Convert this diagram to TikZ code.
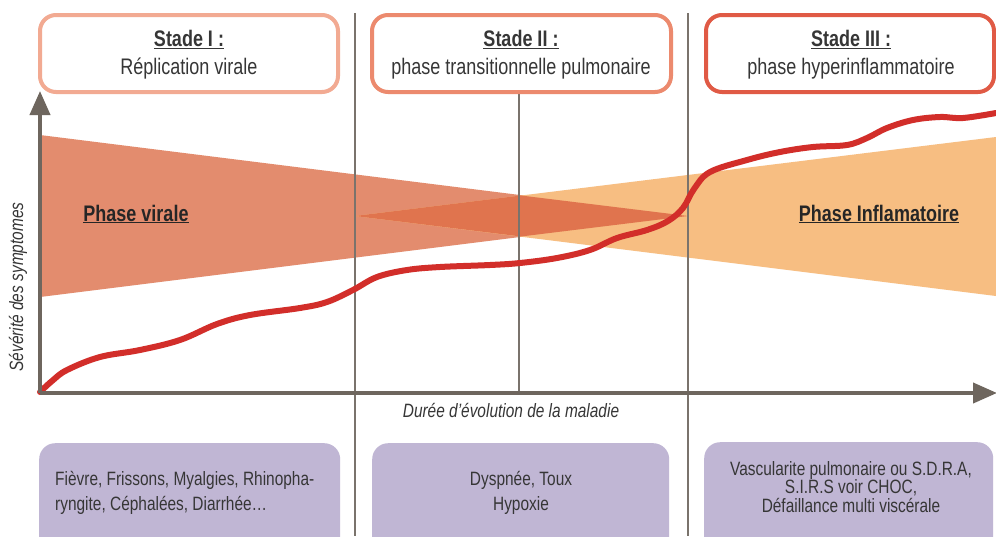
\documentclass[tikz,border=0pt]{standalone}
\usepackage{fontspec}
\setmainfont{Liberation Sans}[FakeStretch=0.8]
\usetikzlibrary{arrows.meta}
\definecolor{axisgray}{HTML}{6E665E}
\definecolor{linegray}{HTML}{7A736C}
\definecolor{virred}{HTML}{E38C6E}
\definecolor{inforange}{HTML}{F7BE82}
\definecolor{overlapc}{HTML}{E0744E}
\definecolor{curvered}{HTML}{D22E2A}
\definecolor{lav}{HTML}{C0B6D4}
\definecolor{txt}{HTML}{363636}
\definecolor{boxa}{HTML}{F2AA92}
\definecolor{boxb}{HTML}{EC8A6E}
\definecolor{boxc}{HTML}{E05A45}
\begin{document}
\begin{tikzpicture}[x=1pt,y=-1pt,
  stadebox/.style={draw, line width=4pt, rounded corners=16pt, fill=white,
    minimum height=77pt, inner sep=0pt},
  stadetext/.style={align=center, text=txt, font=\fontsize{22.5}{28}\selectfont},
  lavbox/.style={fill=lav, rounded corners=16pt, minimum height=130pt, inner sep=0pt, anchor=north west},
  bottext/.style={text=txt, font=\fontsize{19.3}{25}\selectfont, inner sep=0pt},
  phasetext/.style={text=black!85, font=\bfseries\fontsize{22.5}{25}\selectfont, inner sep=0pt},
  axislabel/.style={text=txt, font=\itshape\fontsize{19.3}{22}\selectfont, inner sep=0pt},
  vline/.style={draw=linegray, line width=1.3pt},
  axis/.style={draw=axisgray, line width=4pt, -{Triangle[length=24pt,width=20pt]}}
]
\useasboundingbox (0,0) rectangle (996,536);
\clip (0,0) rectangle (996,536);
\fill[white] (0,0) rectangle (996,536);

% bands
\fill[virred] (40,135) -- (688,216) -- (40,297) -- cycle;
\fill[inforange] (355,216) -- (996,137) -- (996,296) -- cycle;
\fill[overlapc] (355,216) -- (521,195.5) -- (688,216) -- (521,236.5) -- cycle;

% vertical lines
\coordinate (v1t) at (355,13); \coordinate (v1b) at (355,536);
\coordinate (v2t) at (519,92); \coordinate (v2b) at (519,393);
\coordinate (v3t) at (688,13); \coordinate (v3b) at (688,536);
\draw[vline] (v1t) -- (v1b);
\draw[vline] (v2t) -- (v2b);
\draw[vline] (v3t) -- (v3b);

% top boxes
\node[stadebox, draw=boxa, minimum width=298pt] (s1) at (189,53.5) {};
\node[stadebox, draw=boxb, minimum width=299pt] (s2) at (521.5,53.5) {};
\node[stadebox, draw=boxc, minimum width=288pt] (s3) at (850,53.5) {};
\node[stadetext] (s1t) at (189,55) {\underline{\textbf{Stade I :}}\\Réplication virale};
\node[stadetext] (s2t) at (521,55) {\underline{\textbf{Stade II :}}\\phase transitionnelle pulmonaire};
\node[stadetext] (s3t) at (851,55) {\underline{\textbf{Stade III :}}\\phase hyperinflammatoire};

% curve
\draw[curvered, line width=6pt, line cap=round] plot[smooth, tension=0.6] coordinates {
 (40,392) (52,381) (67,370) (100,357) (140,350) (180,340) (217,324) (250,315)
 (300,308) (327,302) (353,290) (377,277) (407,270) (440,267) (490,265) (520,263)
 (557,258) (590,250) (617,238) (647,230) (668,221) (683,208) (694,189) (710,172)
 (747,160) (780,152) (813,147) (847,145) (867,138) (887,128) (913,120) (940,117)
 (963,118) (996,113)};

% phase labels
\node[phasetext] (pv) at (136,214) {\underline{Phase virale}};
\node[phasetext] (pi) at (879,214) {\underline{Phase Inflamatoire}};

% axes
\coordinate (o) at (40,393);
\coordinate (ytip) at (40,91);
\coordinate (xtip) at (997,393);
\draw[axis] (o) -- (ytip);
\draw[axis] (o) -- (xtip);
\node[axislabel, rotate=90] (yl) at (18,287) {Sévérité des symptomes};
\node[axislabel] (xl) at (511,410) {Durée d’évolution de la maladie};

% bottom boxes
\node[lavbox, minimum width=301pt] (b1) at (39,443) {};
\node[lavbox, minimum width=297pt] (b2) at (372,443) {};
\node[lavbox, minimum width=289pt] (b3) at (704,442) {};
\node[bottext, align=left, anchor=west] (b1t) at (55,493) {Fièvre, Frissons, Myalgies, Rhinopha-\\ryngite, Céphalées, Diarrhée…};
\node[bottext, align=center] (b2t) at (521,493) {Dyspnée, Toux\\Hypoxie};
\node[bottext, align=center, font=\fontsize{19.3}{18.5}\selectfont] (b3t) at (851,487) {Vascularite pulmonaire ou S.D.R.A,\\S.I.R.S voir CHOC,\\Défaillance multi viscérale};
\end{tikzpicture}
\end{document}
